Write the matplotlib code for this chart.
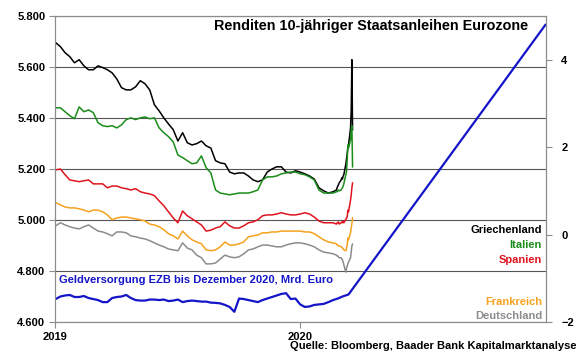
import matplotlib
matplotlib.use("Agg")
import matplotlib.pyplot as plt
import matplotlib.dates as mdates
import pandas as pd

plt.rcParams['font.family'] = ['Liberation Sans', 'DejaVu Sans']
plt.rcParams['font.weight'] = 'bold'

# weekly readings (Jan 2019 - Feb 2020), then daily for the March 2020 spike
weekly_dates = pd.date_range('2019-01-02', periods=60, freq='7D')
daily_dates = pd.bdate_range('2020-02-24', '2020-03-19')
yield_dates = weekly_dates.append(daily_dates)

greece = [4.39, 4.30, 4.16, 4.07, 3.93, 4.00, 3.86, 3.77, 3.77, 3.86,
          3.82, 3.77, 3.70, 3.56, 3.36, 3.31, 3.31, 3.38, 3.52, 3.45,
          3.31, 2.97, 2.83, 2.67, 2.53, 2.40, 2.14, 2.33, 2.10, 2.05,
          2.08, 2.14, 2.03, 1.98, 1.69, 1.64, 1.62, 1.43, 1.39, 1.41,
          1.41, 1.34, 1.25, 1.21, 1.25, 1.43, 1.50, 1.55, 1.55, 1.43,
          1.41, 1.46, 1.43, 1.39, 1.34, 1.27, 1.07, 1.00, 0.95, 0.98,
          1.02, 1.07, 1.11, 1.14, 1.18, 1.25, 1.30, 1.27, 1.34, 1.37,
          1.61, 1.73, 1.85, 1.98, 2.05, 2.44, 2.85, 4.00, 2.40]
italy = [2.90, 2.90, 2.81, 2.72, 2.65, 2.92, 2.81, 2.85, 2.79, 2.56,
         2.49, 2.47, 2.49, 2.44, 2.51, 2.63, 2.67, 2.63, 2.67, 2.69,
         2.65, 2.67, 2.44, 2.33, 2.24, 2.12, 1.82, 1.76, 1.69, 1.62,
         1.64, 1.80, 1.53, 1.41, 1.02, 0.95, 0.93, 0.91, 0.93, 0.95,
         0.95, 0.95, 0.98, 1.02, 1.25, 1.32, 1.32, 1.34, 1.39, 1.41,
         1.43, 1.43, 1.39, 1.37, 1.32, 1.25, 1.02, 0.95, 0.95, 0.95,
         0.98, 0.98, 1.00, 1.02, 1.00, 1.02, 1.05, 1.07, 1.11, 1.16,
         1.37, 1.43, 1.71, 2.05, 1.98, 2.17, 2.40, 2.49, 1.55]
spain = [1.48, 1.50, 1.37, 1.25, 1.23, 1.21, 1.23, 1.25, 1.16, 1.16,
         1.16, 1.07, 1.11, 1.11, 1.07, 1.05, 1.02, 1.05, 0.98, 0.95,
         0.93, 0.89, 0.77, 0.66, 0.52, 0.38, 0.27, 0.54, 0.43, 0.36,
         0.29, 0.22, 0.08, 0.10, 0.15, 0.18, 0.29, 0.20, 0.15, 0.15,
         0.20, 0.27, 0.29, 0.34, 0.43, 0.45, 0.45, 0.47, 0.50, 0.47,
         0.45, 0.45, 0.47, 0.50, 0.47, 0.40, 0.31, 0.27, 0.27, 0.27,
         0.24, 0.27, 0.27, 0.29, 0.24, 0.27, 0.29, 0.27, 0.31, 0.27,
         0.34, 0.38, 0.40, 0.56, 0.52, 0.79, 0.91, 1.07, 1.18]
france = [0.73, 0.68, 0.63, 0.61, 0.61, 0.59, 0.56, 0.52, 0.56, 0.56,
          0.52, 0.45, 0.34, 0.38, 0.40, 0.40, 0.38, 0.36, 0.34, 0.31,
          0.24, 0.22, 0.18, 0.11, 0.02, -0.03, -0.10, 0.08, -0.03, -0.12,
          -0.17, -0.21, -0.35, -0.37, -0.35, -0.28, -0.17, -0.24, -0.24, -0.21,
          -0.17, -0.05, -0.03, -0.01, 0.04, 0.04, 0.06, 0.06, 0.08, 0.08,
          0.08, 0.08, 0.08, 0.06, 0.06, 0.02, -0.05, -0.12, -0.17, -0.19,
          -0.21, -0.24, -0.24, -0.26, -0.26, -0.28, -0.28, -0.31, -0.33, -0.35,
          -0.37, -0.31, -0.24, -0.08, -0.12, 0.04, 0.15, 0.25, 0.38]
germany = [0.20, 0.27, 0.22, 0.18, 0.15, 0.13, 0.18, 0.22, 0.15, 0.08,
           0.06, 0.02, -0.03, 0.06, 0.06, 0.04, -0.03, -0.05, -0.08, -0.10,
           -0.14, -0.19, -0.24, -0.28, -0.33, -0.35, -0.37, -0.19, -0.31, -0.35,
           -0.47, -0.53, -0.67, -0.67, -0.65, -0.56, -0.47, -0.51, -0.53, -0.51,
           -0.44, -0.35, -0.33, -0.28, -0.24, -0.24, -0.26, -0.28, -0.28, -0.24,
           -0.21, -0.19, -0.19, -0.21, -0.24, -0.28, -0.35, -0.40, -0.42, -0.44,
           -0.47, -0.49, -0.49, -0.51, -0.53, -0.53, -0.56, -0.58, -0.63, -0.69,
           -0.86, -0.77, -0.72, -0.67, -0.63, -0.53, -0.40, -0.26, -0.22]

# ECB money supply (Mrd. Euro), weekly, then straight projection to Dec 2020
ecb_dates = weekly_dates.append(pd.to_datetime(['2020-02-26', '2020-03-04', '2020-03-13', '2020-12-31']))
ecb = [4690, 4700, 4704, 4706, 4698, 4698, 4702, 4694, 4690, 4686,
       4678, 4678, 4694, 4698, 4700, 4706, 4694, 4686, 4684, 4684,
       4688, 4688, 4686, 4688, 4682, 4684, 4688, 4678, 4682, 4684,
       4682, 4680, 4680, 4676, 4675, 4673, 4667, 4659, 4640, 4692,
       4690, 4686, 4682, 4678, 4686, 4692, 4698, 4704, 4710, 4713,
       4690, 4692, 4669, 4659, 4661, 4667, 4669, 4671, 4678, 4686,
       4692, 4700, 4708, 5765]

series = [('Griechenland', greece, '#000000'),
          ('Italien', italy, '#1a8c1a'),
          ('Spanien', spain, '#e0141e'),
          ('Frankreich', france, '#f5a21e'),
          ('Deutschland', germany, '#8c8c8c')]

fig = plt.figure(figsize=(5.8, 3.59), dpi=100)
ax = fig.add_axes([55/580, 1-322/359, 491/580, 306/359])
ax2 = ax.twinx()

ax.plot(ecb_dates, ecb, color='#1414c8', lw=1.6)
for name, vals, col in series:
    ax2.plot(yield_dates, vals, color=col, lw=1.1)

ax.set_xlim(pd.Timestamp('2019-01-01'), pd.Timestamp('2021-01-01'))
ax.set_ylim(4600, 5800)
ax.set_yticks(range(4600, 5801, 200))
ax.set_yticklabels([f"{v:,}".replace(",", ".") for v in range(4600, 5801, 200)])
ax2.set_ylim(-2, 5.0)
ax2.set_yticks([-2, 0, 2, 4])
ax.set_xticks([pd.Timestamp('2019-01-01'), pd.Timestamp('2020-01-01')])
ax.xaxis.set_major_formatter(mdates.DateFormatter('%Y'))

ax.yaxis.grid(True, color='#555555', lw=0.8)
ax.set_axisbelow(True)
for a in (ax, ax2):
    for s in a.spines.values():
        s.set_color('#8c8c8c')
        s.set_linewidth(0.8)
    a.tick_params(length=4, width=0.8, color='#8c8c8c', labelsize=8, pad=3)
ax2.tick_params(pad=7)

fig.text(528/580, 1-26/359, 'Renditen 10-jähriger Staatsanleihen Eurozone',
         ha='right', va='center', fontsize=10.4, fontweight='bold')
label_y = [230, 245, 260, 302, 316]
for (name, vals, col), yy in zip(series, label_y):
    fig.text(542/580, 1-yy/359, name, ha='right', va='center', fontsize=8,
             fontweight='bold', color=col)
fig.text(59/580, 1-280/359, 'Geldversorgung EZB bis Dezember 2020, Mrd. Euro',
         ha='left', va='center', fontsize=8, fontweight='bold', color='#1414c8')
fig.text(577/580, 1-346/359, 'Quelle: Bloomberg, Baader Bank Kapitalmarktanalyse',
         ha='right', va='center', fontsize=8, fontweight='bold')

fig.savefig('out.png', dpi=100)
